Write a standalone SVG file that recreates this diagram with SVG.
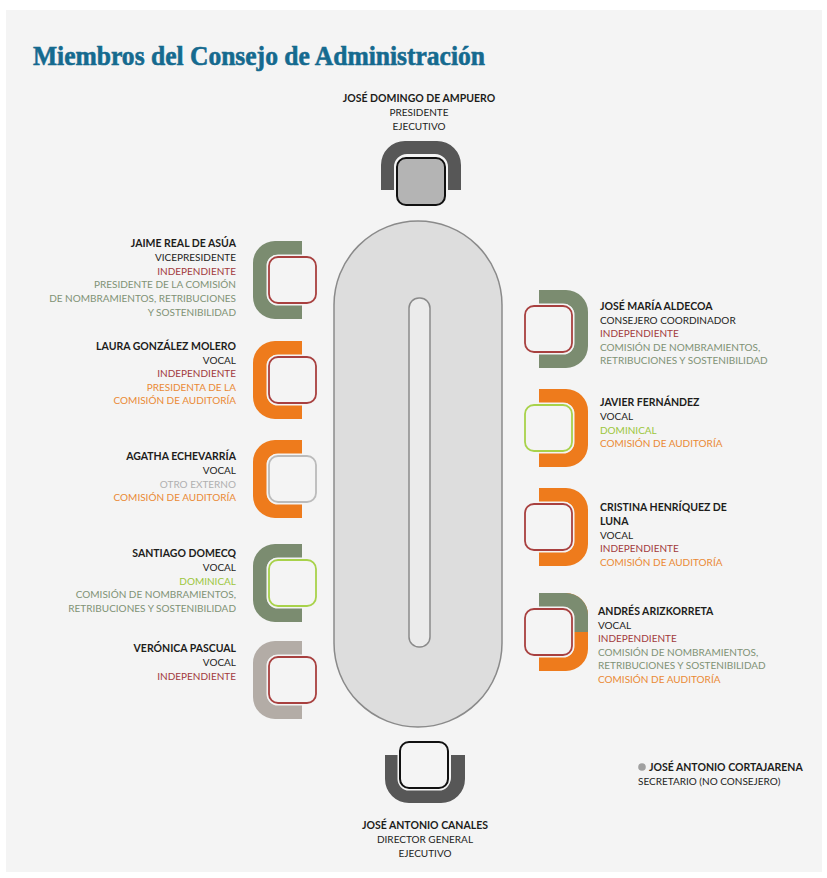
<svg xmlns="http://www.w3.org/2000/svg" xmlns:xlink="http://www.w3.org/1999/xlink" width="827" height="878" viewBox="0 0 827 878">
<style>
.t{font-family:Lato,"Open Sans","Liberation Sans",sans-serif;font-size:10px;fill:#1d1d1b}
.b{font-weight:700;font-size:10.5px}
.ind{fill:#a23a3c}
.grn{fill:#7f9274}
.org{fill:#ea8a35}
.dom{fill:#9cc63c}
.ext{fill:#b0b0b0}
.e{text-anchor:end}
.m{text-anchor:middle}
.cg{fill:#7b8c70}
.co{fill:#ee7b1c}
.ct{fill:#b3aca6}
.cd{fill:#575757}
.halo{fill:#f4f4f4;stroke:#f4f4f4;stroke-width:5}
.si{fill:none;stroke:#a8403f;stroke-width:1.8}
.sd{fill:none;stroke:#a8d24a;stroke-width:1.8}
.so{fill:none;stroke:#bbbbbb;stroke-width:1.8}
.sk{stroke:#111;stroke-width:2}
</style>
<defs>
<path id="cL" d="M49,0 H22 A22,22 0 0 0 0,22 V56 A22,22 0 0 0 22,78 H49 V64 H24 A10,10 0 0 1 14,54 V24 A10,10 0 0 1 24,14 H49 Z"/>
<rect id="seat" x="16" y="16" width="47" height="46" rx="9"/>
<clipPath id="topHalf"><rect x="-5" y="-5" width="60" height="44"/></clipPath>
</defs>
<rect x="0" y="0" width="827" height="878" fill="#ffffff"/>
<rect x="6" y="10" width="816" height="862" fill="#f4f4f4"/>
<text x="33" y="65" font-family="'Liberation Serif','DejaVu Serif',serif" font-weight="700" font-size="28" fill="#156a8f" stroke="#156a8f" stroke-width="0.6" textLength="452" lengthAdjust="spacingAndGlyphs">Miembros del Consejo de Administración</text>

<g id="mesa">
<rect x="334" y="221" width="168" height="506" rx="84" ry="84" fill="#dddddd" stroke="#8a8a8a" stroke-width="1.5"/>
<rect x="409" y="298" width="21" height="349" rx="10" ry="10" fill="#ebebeb" stroke="#8a8a8a" stroke-width="1.5"/>
</g>

<g id="connectors"></g>

<g id="ampuero">
<path class="cd" transform="translate(381,141)" d="M0,49 V24 A24,24 0 0 1 24,0 H56 A24,24 0 0 1 80,24 V49 H67 V26 A13,13 0 0 0 54,13 H26 A13,13 0 0 0 13,26 V49 Z"/>
<rect x="397" y="158" width="48" height="47" rx="9" fill="#f4f4f4" stroke="#f4f4f4" stroke-width="5"/>
<rect x="397" y="158" width="48" height="47" rx="9" fill="#b4b4b4" class="sk"/>
<text class="t b m" x="419" y="102">JOSÉ DOMINGO DE AMPUERO</text>
<text class="t m" x="419" y="116">PRESIDENTE</text>
<text class="t m" x="419" y="130">EJECUTIVO</text>
</g>

<g id="canales">
<path class="cd" transform="translate(385,755)" d="M0,0 V24 A24,24 0 0 0 24,48 H56 A24,24 0 0 0 80,24 V0 H66 V22 A12,12 0 0 1 54,34 H26 A12,12 0 0 1 14,22 V0 Z"/>
<rect x="400" y="742" width="48" height="46" rx="9" fill="#f4f4f4" stroke="#f4f4f4" stroke-width="5"/>
<rect x="400" y="742" width="48" height="46" rx="9" fill="#f4f4f4" class="sk"/>
<text class="t b m" x="425" y="829">JOSÉ ANTONIO CANALES</text>
<text class="t m" x="425" y="843">DIRECTOR GENERAL</text>
<text class="t m" x="425" y="857">EJECUTIVO</text>
</g>

<g id="jaime">
<g transform="translate(253,241)"><use href="#cL" class="cg"/><use href="#seat" class="halo"/><use href="#seat" class="si"/></g>
<text class="t b e" x="236" y="247">JAIME REAL DE ASÚA</text>
<text class="t e" x="236" y="261">VICEPRESIDENTE</text>
<text class="t e ind" x="236" y="274.5">INDEPENDIENTE</text>
<text class="t e grn" x="236" y="288">PRESIDENTE DE LA COMISIÓN</text>
<text class="t e grn" x="236" y="302">DE NOMBRAMIENTOS, RETRIBUCIONES</text>
<text class="t e grn" x="236" y="315.5">Y SOSTENIBILIDAD</text>
</g>

<g id="laura">
<g transform="translate(253,341)"><use href="#cL" class="co"/><use href="#seat" class="halo"/><use href="#seat" class="si"/></g>
<text class="t b e" x="236" y="350">LAURA GONZÁLEZ MOLERO</text>
<text class="t e" x="236" y="363.5">VOCAL</text>
<text class="t e ind" x="236" y="377">INDEPENDIENTE</text>
<text class="t e org" x="236" y="390.5">PRESIDENTA DE LA</text>
<text class="t e org" x="236" y="404">COMISIÓN DE AUDITORÍA</text>
</g>

<g id="agatha">
<g transform="translate(253,440)"><use href="#cL" class="co"/><use href="#seat" class="halo"/><use href="#seat" class="so"/></g>
<text class="t b e" x="236" y="460">AGATHA ECHEVARRÍA</text>
<text class="t e" x="236" y="474">VOCAL</text>
<text class="t e ext" x="236" y="487.5">OTRO EXTERNO</text>
<text class="t e org" x="236" y="501">COMISIÓN DE AUDITORÍA</text>
</g>

<g id="santiago">
<g transform="translate(253,544)"><use href="#cL" class="cg"/><use href="#seat" class="halo"/><use href="#seat" class="sd"/></g>
<text class="t b e" x="236" y="557">SANTIAGO DOMECQ</text>
<text class="t e" x="236" y="571">VOCAL</text>
<text class="t e dom" x="236" y="584.5">DOMINICAL</text>
<text class="t e grn" x="236" y="598">COMISIÓN DE NOMBRAMIENTOS,</text>
<text class="t e grn" x="236" y="612">RETRIBUCIONES Y SOSTENIBILIDAD</text>
</g>

<g id="veronica">
<g transform="translate(253,641)"><use href="#cL" class="ct"/><use href="#seat" class="halo"/><use href="#seat" class="si"/></g>
<text class="t b e" x="236" y="652">VERÓNICA PASCUAL</text>
<text class="t e" x="236" y="666">VOCAL</text>
<text class="t e ind" x="236" y="679.5">INDEPENDIENTE</text>
</g>

<g id="aldecoa">
<g transform="translate(588,290) scale(-1,1)"><use href="#cL" class="cg"/><use href="#seat" class="halo"/><use href="#seat" class="si"/></g>
<text class="t b" x="600" y="310">JOSÉ MARÍA ALDECOA</text>
<text class="t" x="600" y="323.5">CONSEJERO COORDINADOR</text>
<text class="t ind" x="600" y="337">INDEPENDIENTE</text>
<text class="t grn" x="600" y="350.5">COMISIÓN DE NOMBRAMIENTOS,</text>
<text class="t grn" x="600" y="364">RETRIBUCIONES Y SOSTENIBILIDAD</text>
</g>

<g id="javier">
<g transform="translate(588,389) scale(-1,1)"><use href="#cL" class="co"/><use href="#seat" class="halo"/><use href="#seat" class="sd"/></g>
<text class="t b" x="600" y="406">JAVIER FERNÁNDEZ</text>
<text class="t" x="600" y="420">VOCAL</text>
<text class="t dom" x="600" y="433.5">DOMINICAL</text>
<text class="t org" x="600" y="447">COMISIÓN DE AUDITORÍA</text>
</g>

<g id="cristina">
<g transform="translate(588,488) scale(-1,1)"><use href="#cL" class="co"/><use href="#seat" class="halo"/><use href="#seat" class="si"/></g>
<text class="t b" x="600" y="511">CRISTINA HENRÍQUEZ DE</text>
<text class="t b" x="600" y="525">LUNA</text>
<text class="t" x="600" y="538.5">VOCAL</text>
<text class="t ind" x="600" y="552">INDEPENDIENTE</text>
<text class="t org" x="600" y="566">COMISIÓN DE AUDITORÍA</text>
</g>

<g id="andres">
<g transform="translate(588,593) scale(-1,1)"><use href="#cL" class="co"/><use href="#cL" class="cg" clip-path="url(#topHalf)"/><use href="#seat" class="halo"/><use href="#seat" class="si"/></g>
<text class="t b" x="598" y="615">ANDRÉS ARIZKORRETA</text>
<text class="t" x="598" y="628.5">VOCAL</text>
<text class="t ind" x="598" y="642">INDEPENDIENTE</text>
<text class="t grn" x="598" y="655.5">COMISIÓN DE NOMBRAMIENTOS,</text>
<text class="t grn" x="598" y="669">RETRIBUCIONES Y SOSTENIBILIDAD</text>
<text class="t org" x="598" y="682.5">COMISIÓN DE AUDITORÍA</text>
</g>

<g id="cortajarena">
<circle cx="642" cy="767" r="3.8" fill="#a0a0a0"/>
<text class="t b" x="649" y="771">JOSÉ ANTONIO CORTAJARENA</text>
<text class="t" x="638" y="785">SECRETARIO (NO CONSEJERO)</text>
</g>
</svg>
